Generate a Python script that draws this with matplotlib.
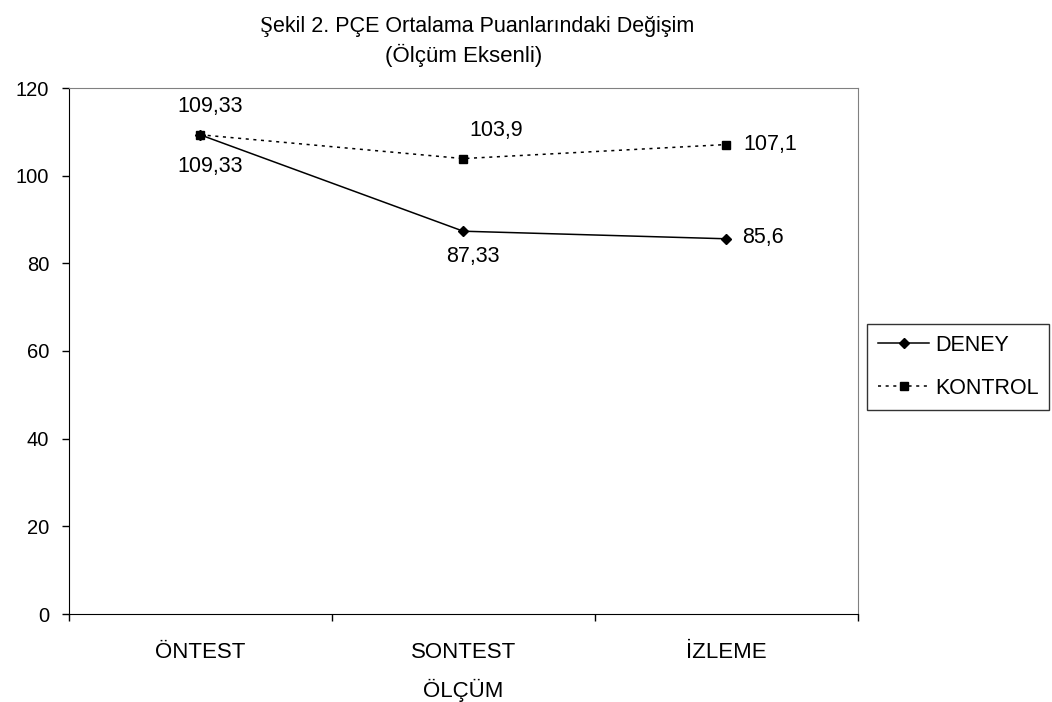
import matplotlib
matplotlib.use("Agg")
import matplotlib.pyplot as plt

plt.rcParams['font.family'] = ['Liberation Sans', 'DejaVu Sans']

# data
categories = ['ÖNTEST', 'SONTEST', 'İZLEME']
deney = [109.33, 87.33, 85.6]
kontrol = [109.33, 103.9, 107.1]
deney_labels = ['109,33', '87,33', '85,6']
kontrol_labels = ['109,33', '103,9', '107,1']
y_ticks = [0, 20, 40, 60, 80, 100, 120]

W, H = 1052, 702
fig = plt.figure(figsize=(W / 100, H / 100), dpi=100)
# plot area in pixels: x 68.5..858, y 88..614
ax = fig.add_axes([68.5 / W, 1 - 614 / H, (858 - 68.5) / W, (614 - 88) / H])

x = list(range(len(categories)))
ax.plot(x, deney, color='black', linewidth=1.1, marker='D', markersize=5.5,
        label='DENEY')
ax.plot(x, kontrol, color='black', linewidth=1.1, linestyle=(0, (2, 3)),
        marker='s', markersize=5.8, label='KONTROL')

# point labels (offsets in pixels)
deney_offsets = [(10, -32, 'center'), (10, -25, 'center'), (16, 1, 'left')]
kontrol_offsets = [(10, 28, 'center'), (33, 28, 'center'), (17, 0, 'left')]
for xi, v, lab, (dx, dy, ha) in zip(x, deney, deney_labels, deney_offsets):
    ax.annotate(lab, (xi, v), xytext=(dx, dy), textcoords='offset pixels',
                ha=ha, va='center', fontsize=15.5)
for xi, v, lab, (dx, dy, ha) in zip(x, kontrol, kontrol_labels, kontrol_offsets):
    ax.annotate(lab, (xi, v), xytext=(dx, dy), textcoords='offset pixels',
                ha=ha, va='center', fontsize=15.5)

ax.set_xlim(-0.5, len(categories) - 0.5)
ax.set_ylim(0, 120)
ax.set_yticks(y_ticks)
ax.tick_params(axis='y', labelsize=14.5, length=5, pad=9, direction='out', width=1)

# ticks at category boundaries, labels at centres
ax.set_xticks([i - 0.5 for i in range(len(categories) + 1)])
ax.set_xticklabels([])
ax.set_xticks(x, minor=True)
ax.set_xticklabels(categories, minor=True)
ax.tick_params(axis='x', which='major', length=5, width=1, direction='out')
ax.tick_params(axis='x', which='minor', length=0, labelsize=16, pad=20)

for side in ['top', 'right']:
    ax.spines[side].set_color('#808080')
for side in ['left', 'bottom']:
    ax.spines[side].set_color('black')

ax.set_xlabel('ÖLÇÜM', fontsize=16)
ax.xaxis.set_label_coords(0.5, (614 - 690) / (614 - 88))
ax.xaxis.label.set_va('center')

# title: the Ş is set in a serif face, as in the original
fig.text(273 / W, 1 - 32 / H, 'Ş', family='Liberation Serif',
         ha='right', va='baseline', fontsize=17)
fig.text(273 / W, 1 - 32 / H, 'ekil 2. PÇE Ortalama Puanlarındaki Değişim',
         ha='left', va='baseline', fontsize=15.5)
fig.text(463.5 / W, 1 - 62 / H, '(Ölçüm Eksenli)',
         ha='center', va='baseline', fontsize=16)

leg = ax.legend(loc='upper left', bbox_to_anchor=(867 / W, 1 - 324 / H),
                bbox_transform=fig.transFigure,
                fontsize=15.5, frameon=True, fancybox=False, edgecolor='black',
                handlelength=2.4, labelspacing=1.03, borderpad=0.5,
                handletextpad=0.25, borderaxespad=0)
leg.get_frame().set_linewidth(1.0)

fig.savefig('out.png', dpi=100)
